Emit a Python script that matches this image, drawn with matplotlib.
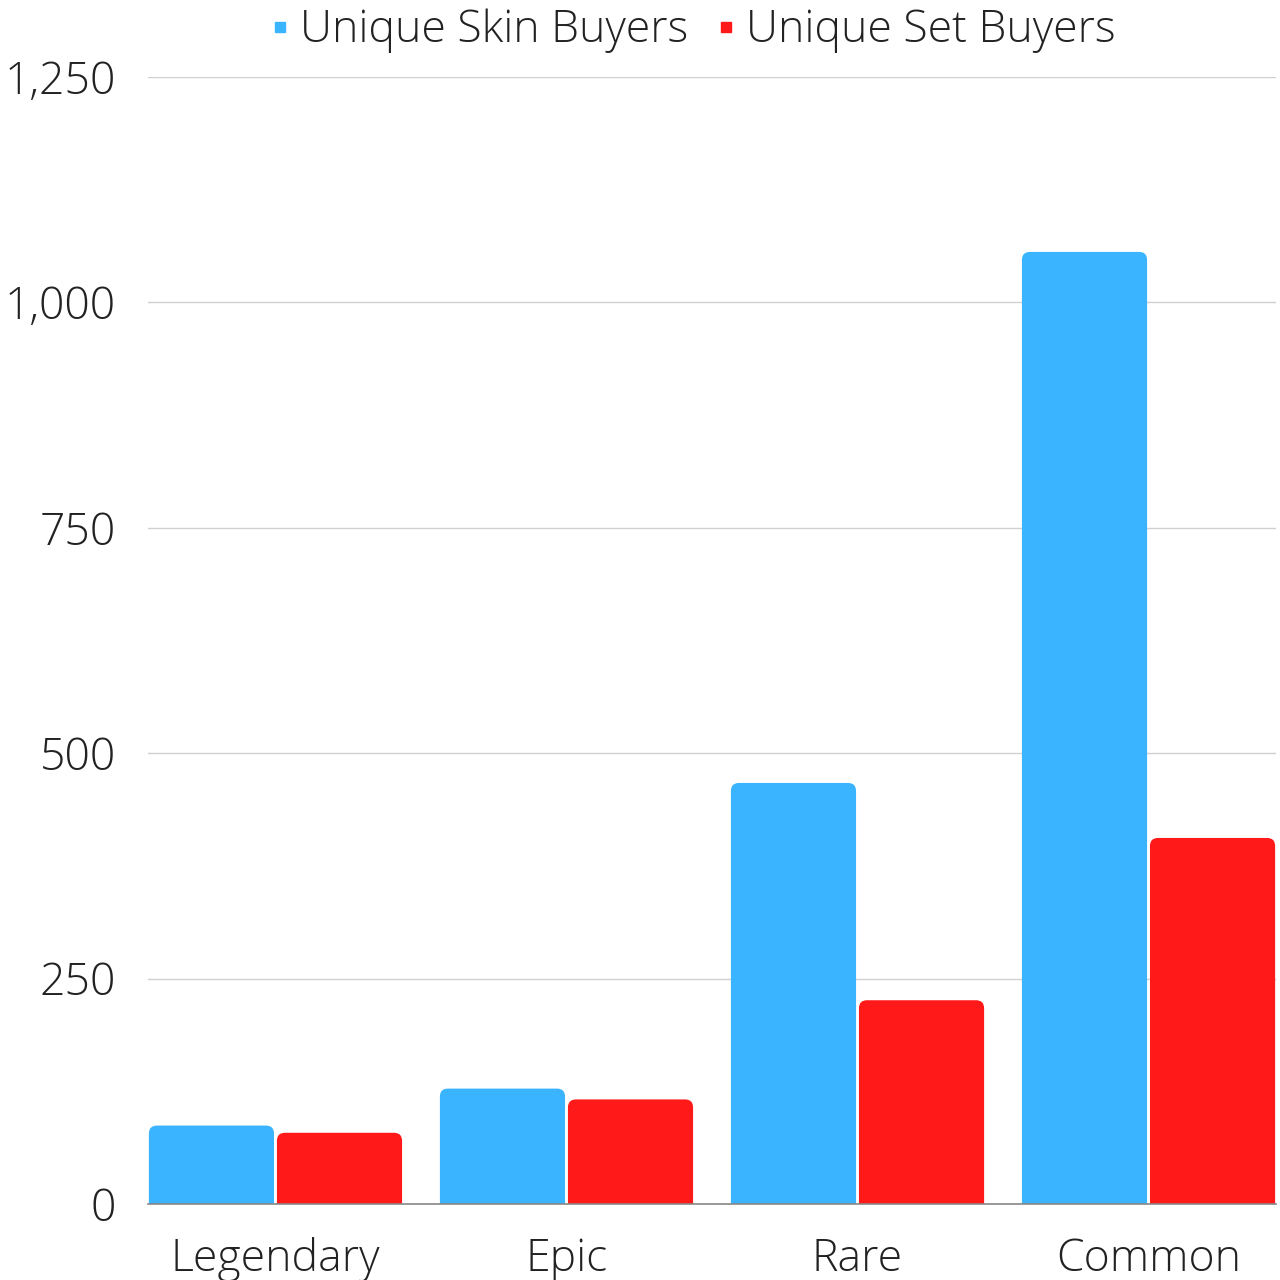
import matplotlib.pyplot as plt
from matplotlib.path import Path
from matplotlib.patches import PathPatch
from matplotlib.lines import Line2D
import numpy as np

categories = ["Legendary", "Epic", "Rare", "Common"]
skin_buyers = [87, 128, 467, 1056]
set_buyers = [79, 116, 226, 406]

BLUE = "#3bb4ff"
RED = "#ff1919"

plt.rcParams["font.family"] = ["Open Sans", "DejaVu Sans"]
plt.rcParams["font.weight"] = "light"

fig = plt.figure(figsize=(12.8, 12.8), dpi=100)
ax = fig.add_axes([148 / 1280, 76 / 1280, 1128 / 1280, 1127 / 1280])

x = np.arange(len(categories))
width = 0.43
offset = 0.22
ax.set_xlim(-0.438, 3.438)
ax.set_ylim(0, 1250)

# px per data unit
sx = 1128 / (ax.get_xlim()[1] - ax.get_xlim()[0])
sy = 1127 / 1250
r_px = 8


def rounded_bar(x0, w, h, color):
    rx = r_px / sx
    ry = min(r_px / sy, h)
    x1 = x0 + w
    verts = [
        (x0, 0), (x0, h - ry), (x0, h), (x0 + rx, h),
        (x1 - rx, h), (x1, h), (x1, h - ry), (x1, 0), (x0, 0),
    ]
    codes = [Path.MOVETO, Path.LINETO, Path.CURVE3, Path.CURVE3,
             Path.LINETO, Path.CURVE3, Path.CURVE3, Path.LINETO, Path.CLOSEPOLY]
    ax.add_patch(PathPatch(Path(verts, codes), facecolor=color,
                           edgecolor="none", zorder=3))


for i in range(len(categories)):
    rounded_bar(x[i] - offset - width / 2, width, skin_buyers[i], BLUE)
    rounded_bar(x[i] + offset - width / 2, width, set_buyers[i], RED)

ax.set_yticks([0, 250, 500, 750, 1000, 1250])
ax.set_yticklabels(["0", "250", "500", "750", "1,000", "1,250"])
ax.set_xticks(x)
ax.set_xticklabels(categories)
ax.tick_params(axis="both", length=0, labelsize=32, colors="#222222")
ax.tick_params(axis="y", pad=23)
ax.tick_params(axis="x", pad=24)

ax.grid(axis="y", color="#d0d0d0", linewidth=1, zorder=0)
ax.set_axisbelow(True)
for s in ["top", "right", "left"]:
    ax.spines[s].set_visible(False)
ax.spines["bottom"].set_color("#888888")
ax.spines["bottom"].set_linewidth(1.2)
ax.spines["bottom"].set_zorder(4)

handles = [
    Line2D([], [], marker="s", linestyle="none", color=BLUE, markersize=7),
    Line2D([], [], marker="s", linestyle="none", color=RED, markersize=7),
]
fig.legend(handles, ["Unique Skin Buyers", "Unique Set Buyers"],
           loc="center", bbox_to_anchor=(691 / 1280, 1 - 31 / 1280),
           ncol=2, frameon=False, fontsize=32, handletextpad=0.15,
           columnspacing=0.55, handlelength=0.6, labelcolor="#222222")

fig.savefig("out.png", dpi=100)
